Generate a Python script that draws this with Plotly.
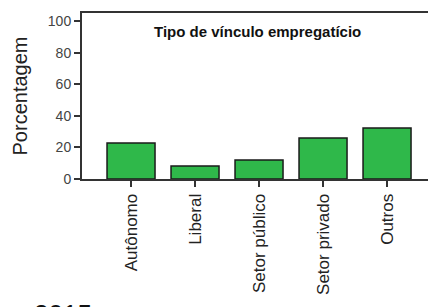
import plotly.graph_objects as go

categories = ["Autônomo", "Liberal", "Setor público", "Setor privado", "Outros"]
values = [22.8, 8.2, 12.0, 26.0, 32.3]
y_ticks = [0, 20, 40, 60, 80, 100]
title_text = "Tipo de vínculo empregatício"
y_title = "Porcentagem"
footer_text = "2015"

fig = go.Figure(go.Bar(
    x=list(range(len(categories))), y=values,
    width=0.75,
    marker=dict(color="#2fb84a", line=dict(color="#1a1a1a", width=1.5)),
))

fig.update_layout(
    width=428, height=307,
    margin=dict(l=82, r=0, t=13, b=128),
    paper_bgcolor="white", plot_bgcolor="white",
    showlegend=False,
    font=dict(family="Liberation Sans, Arial, sans-serif", color="#222"),
    xaxis=dict(
        range=[-0.766, 4.64], automargin=False,
        tickmode="array", tickvals=list(range(len(categories))), ticktext=categories,
        tickangle=-90, tickfont=dict(size=17, color="#222"),
        ticks="outside", ticklen=6, tickwidth=1.5, tickcolor="#333",
        showline=True, linecolor="#333", linewidth=2, mirror=True,
        showgrid=False, zeroline=False,
    ),
    yaxis=dict(
        range=[0, 105.1], automargin=False,
        tickvals=y_ticks, ticktext=[str(v) for v in y_ticks],
        tickfont=dict(size=14, color="#444"),
        ticks="outside", ticklen=6, tickwidth=1.5, tickcolor="#333",
        showline=True, linecolor="#333", linewidth=2,
        showgrid=False, zeroline=False,
        title=dict(text=y_title, font=dict(size=20, color="#222"), standoff=15),
    ),
    annotations=[
        dict(text=f"<b>{title_text}</b>", xref="paper", yref="paper",
             x=0.506, y=0.886, xanchor="center", yanchor="middle",
             showarrow=False, font=dict(size=15, color="#111")),
        dict(text=footer_text, xref="paper", yref="paper",
             x=-0.145, y=-0.71, xanchor="left", yanchor="top",
             showarrow=False, font=dict(size=26, color="#111")),
    ],
)

fig.write_html("out.html", config={"displayModeBar": False},
               post_script="document.body.style.margin='0';document.body.style.overflow='hidden';")
